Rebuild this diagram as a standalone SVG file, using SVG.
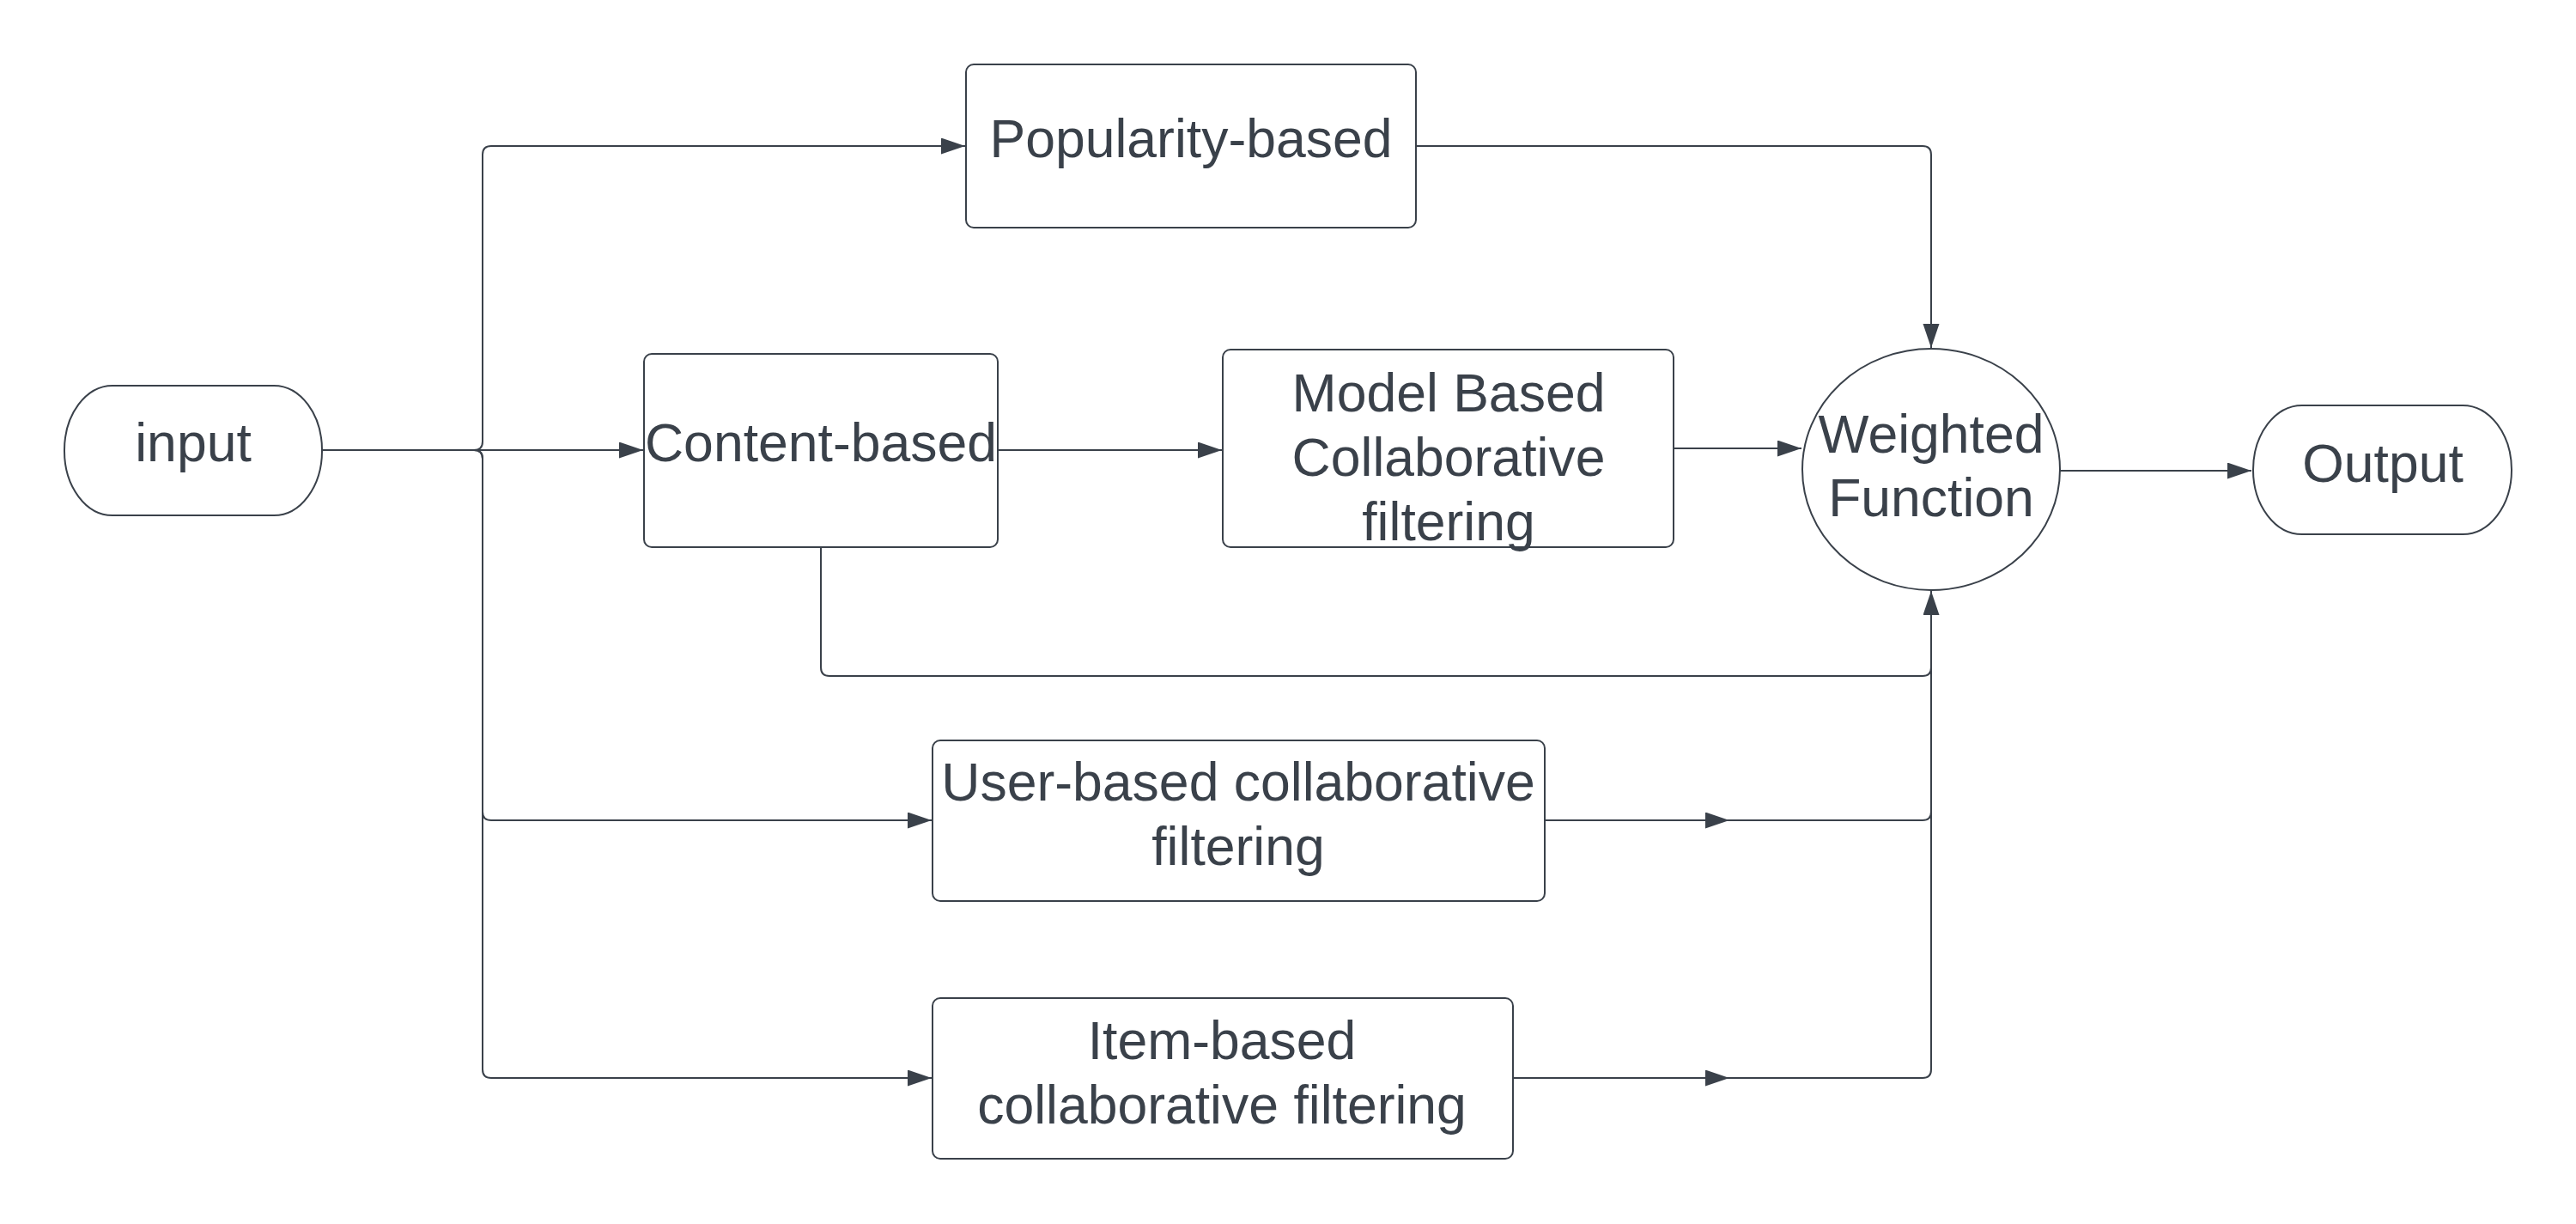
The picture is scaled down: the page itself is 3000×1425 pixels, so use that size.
<svg xmlns="http://www.w3.org/2000/svg" width="3000" height="1425" viewBox="0 0 3000 1425">
<style>
.box{fill:#ffffff;stroke:#3a414a;stroke-width:2}
.lbl{font-family:"Liberation Sans",Arial,sans-serif;font-size:62.5px;fill:#3a414a;text-anchor:middle}
.ln{fill:none;stroke:#3a414a;stroke-width:2}
.arr{marker-end:url(#ah)}
</style>
<defs>
<marker id="ah" markerUnits="userSpaceOnUse" markerWidth="30" markerHeight="20" refX="28" refY="9.5" orient="auto">
<path d="M0,0 L28,9.5 L0,19 Z" fill="#3a414a"/>
</marker>
</defs>
<rect width="3000" height="1425" fill="#ffffff"/>
<g id="connectors">
<path class="ln arr" d="M375,524 H552 Q562,524 562,514 V180 Q562,170 572,170 H1124"/>
<path class="ln arr" d="M375,524 H749"/>
<path class="ln arr" d="M375,524 H552 Q562,524 562,534 V945 Q562,955 572,955 H1085"/>
<path class="ln arr" d="M375,524 H552 Q562,524 562,534 V1245 Q562,1255 572,1255 H1085"/>
<path class="ln arr" d="M1649,170 H2239 Q2249,170 2249,180 V405"/>
<path class="ln arr" d="M1162,524 H1423"/>
<path class="ln arr" d="M1949,522 H2098"/>
<path class="ln arr" d="M956,637 V777 Q956,787 966,787 H2239 Q2249,787 2249,777 V688"/>
<path class="ln arr" d="M1799,955 H2014"/>
<path class="ln" d="M2014,955 H2239 Q2249,955 2249,945 V700"/>
<path class="ln arr" d="M1762,1255 H2014"/>
<path class="ln" d="M2014,1255 H2239 Q2249,1255 2249,1245 V700"/>
<path class="ln arr" d="M2399,548 H2622"/>
</g>
<g id="input">
<rect class="box" x="75" y="449" width="300" height="151" rx="56" ry="75"/>
<text class="lbl" x="225" y="537">input</text>
</g>
<g id="popularity">
<rect class="box" x="1125" y="75" width="524" height="190" rx="9"/>
<text class="lbl" x="1387" y="183">Popularity-based</text>
</g>
<g id="content">
<rect class="box" x="750" y="412" width="412" height="225" rx="9"/>
<text class="lbl" x="956" y="537">Content-based</text>
</g>
<g id="model">
<rect class="box" x="1424" y="407" width="525" height="230" rx="9"/>
<text class="lbl" x="1687" y="479">Model Based</text>
<text class="lbl" x="1687" y="554">Collaborative</text>
<text class="lbl" x="1687" y="629">filtering</text>
</g>
<g id="weighted">
<ellipse class="box" cx="2249" cy="546.5" rx="150" ry="140.5"/>
<text class="lbl" x="2249" y="527">Weighted</text>
<text class="lbl" x="2249" y="601">Function</text>
</g>
<g id="output">
<rect class="box" x="2624" y="472" width="301" height="150" rx="57" ry="75"/>
<text class="lbl" x="2775" y="561">Output</text>
</g>
<g id="userbased">
<rect class="box" x="1086" y="862" width="713" height="187" rx="9"/>
<text class="lbl" x="1442" y="932">User-based collaborative</text>
<text class="lbl" x="1442" y="1007">filtering</text>
</g>
<g id="itembased">
<rect class="box" x="1086" y="1162" width="676" height="187" rx="9"/>
<text class="lbl" x="1423" y="1233">Item-based</text>
<text class="lbl" x="1423" y="1308">collaborative filtering</text>
</g>
</svg>
